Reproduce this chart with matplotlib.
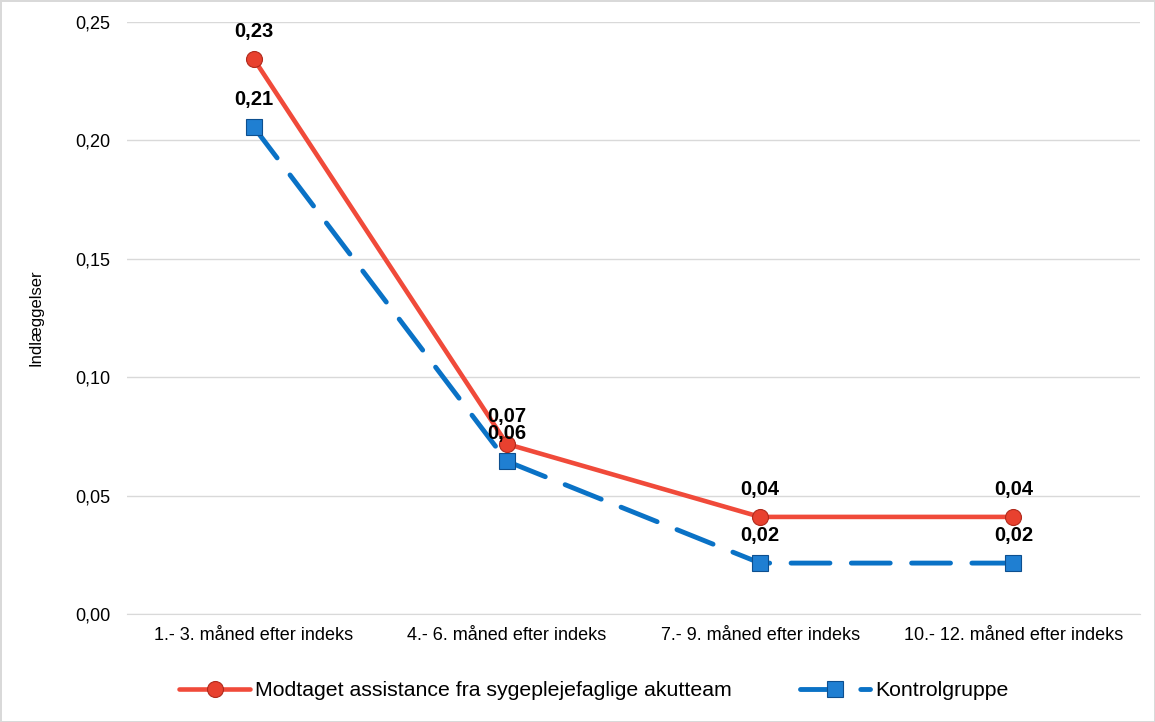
import matplotlib
matplotlib.use("Agg")
import matplotlib.pyplot as plt

categories = [
    "1.- 3. måned efter indeks",
    "4.- 6. måned efter indeks",
    "7.- 9. måned efter indeks",
    "10.- 12. måned efter indeks",
]
akutteam = [0.2345, 0.0718, 0.041, 0.041]
kontrol = [0.2057, 0.0645, 0.0215, 0.0215]
akutteam_labels = ["0,23", "0,07", "0,04", "0,04"]
kontrol_labels = ["0,21", "0,06", "0,02", "0,02"]
yticks = [0.0, 0.05, 0.10, 0.15, 0.20, 0.25]

plt.rcParams["font.family"] = ["Liberation Sans", "DejaVu Sans"]

fig = plt.figure(figsize=(11.55, 7.22), dpi=100)
fig.patch.set_edgecolor("#d9d9d9")
fig.patch.set_linewidth(2)
ax = fig.add_axes([127 / 1155, 1 - 614 / 722, (1140 - 127) / 1155, (614 - 22) / 722])

x = list(range(len(categories)))
red = "#f04a3a"
blue = "#0a72c6"

ax.plot(x, akutteam, color=red, linewidth=3.3, marker="o", markersize=11.5,
        markerfacecolor="#e8412f", markeredgecolor="#b02a1c", markeredgewidth=0.8,
        solid_capstyle="round",
        label="Modtaget assistance fra sygeplejefaglige akutteam", zorder=4)
ax.plot(x, kontrol, color=blue, linewidth=3.5, linestyle=(0, (8.0, 4.4)), marker="s", markersize=11.5,
        markerfacecolor="#1f7fd2", markeredgecolor="#0d4f8f", markeredgewidth=0.8,
        dash_capstyle="round",
        label="Kontrolgruppe", zorder=3)

for xi, v, lab in zip(x, akutteam, akutteam_labels):
    ax.annotate(lab, (xi, v), xytext=(0, 13), textcoords="offset points",
                ha="center", va="bottom", fontsize=14.5, fontweight="bold", zorder=5)
for xi, v, lab in zip(x, kontrol, kontrol_labels):
    ax.annotate(lab, (xi, v), xytext=(0, 13), textcoords="offset points",
                ha="center", va="bottom", fontsize=14.5, fontweight="bold", zorder=5)

ax.set_xlim(-0.5, 3.5)
ax.set_ylim(0, 0.25)
ax.set_yticks(yticks)
ax.set_yticklabels([f"{t:.2f}".replace(".", ",") for t in yticks])
ax.set_xticks(x)
ax.set_xticklabels(categories)
ax.tick_params(axis="both", length=0, labelsize=13, pad=9, colors="#000000")
ax.tick_params(axis="y", pad=12)
ax.grid(axis="y", color="#d9d9d9", linewidth=1)
ax.set_axisbelow(True)
for side in ["left", "right", "top"]:
    ax.spines[side].set_visible(False)
ax.spines["bottom"].set_color("#d9d9d9")
ax.set_ylabel("Indlæggelser", fontsize=12, labelpad=23)

ax.legend(loc="center", bbox_to_anchor=(0.461, -0.13), ncol=2, frameon=False,
          fontsize=15.3, handlelength=3.3, columnspacing=3.2, handletextpad=0.25)

fig.savefig("out.png", dpi=100, edgecolor=fig.get_edgecolor())
